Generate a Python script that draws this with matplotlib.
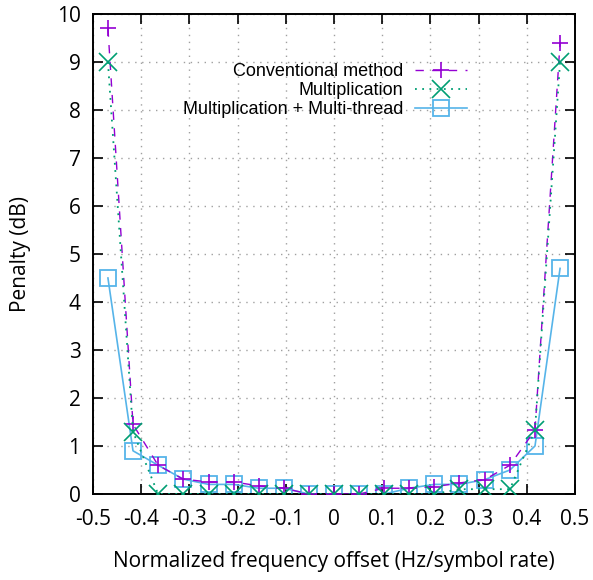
import matplotlib
matplotlib.use("Agg")
import matplotlib.pyplot as plt
import numpy as np

offsets = [-0.469, -0.417, -0.365, -0.313, -0.260, -0.208, -0.156, -0.104, -0.052, 0.0,
           0.052, 0.104, 0.156, 0.208, 0.260, 0.313, 0.365, 0.417, 0.469]
conventional = [9.7, 1.45, 0.6, 0.31, 0.25, 0.25, 0.17, 0.12, 0.0, 0.0,
                0.0, 0.12, 0.12, 0.15, 0.23, 0.3, 0.6, 1.33, 9.4]
multiplication = [9.0, 1.3, 0.0, 0.0, 0.0, 0.0, 0.0, 0.0, 0.0, 0.0,
                  0.0, 0.0, 0.0, 0.0, 0.1, 0.1, 0.1, 1.33, 9.0]
multithread = [4.5, 0.9, 0.6, 0.31, 0.2, 0.2, 0.12, 0.12, 0.0, 0.0,
               0.0, 0.0, 0.12, 0.2, 0.2, 0.3, 0.5, 1.0, 4.7]
labels = ["Conventional method", "Multiplication", "Multiplication + Multi-thread"]
xticks = [-0.5, -0.4, -0.3, -0.2, -0.1, 0, 0.1, 0.2, 0.3, 0.4, 0.5]
xticklabels = ["-0.5", "-0.4", "-0.3", "-0.2", "-0.1", "0", "0.1", "0.2", "0.3", "0.4", "0.5"]
yticks = list(range(0, 11))

plt.rcParams['font.family'] = ['Open Sans', 'DejaVu Sans']
W, H = 593, 580
fig = plt.figure(figsize=(W/100, H/100), dpi=100)
L, R, T, B = 93, 575, 14, 494
ax = fig.add_axes([L/W, 1-B/H, (R-L)/W, (B-T)/H])

ax.plot(offsets, conventional, color='#9400D3', linestyle=(0, (6, 6)), linewidth=1.0,
        marker='+', markersize=11.5, markeredgewidth=1.2, label=labels[0], zorder=3)
ax.plot(offsets, multiplication, color='#009E73', linestyle=(0, (1, 3)), linewidth=1.3,
        marker='x', markersize=12.5, markeredgewidth=1.2, label=labels[1], zorder=4)
ax.plot(offsets, multithread, color='#56B4E9', linestyle='-', linewidth=1.2,
        marker='s', markersize=12, markerfacecolor='none', markeredgewidth=1.3,
        label=labels[2], zorder=2)

ax.set_xlim(-0.5, 0.5)
ax.set_ylim(0, 10)
ax.set_xticks(xticks)
ax.set_xticklabels(xticklabels)
ax.set_yticks(yticks)
ax.tick_params(direction='in', length=7, width=1.2, top=True, right=True,
               labelsize=15)
ax.tick_params(axis='x', pad=11)
ax.tick_params(axis='y', pad=9)
ax.grid(True, linestyle=(0, (1, 4)), color='#a0a0a0', linewidth=1.0)
for s in ax.spines.values():
    s.set_linewidth(1.4)
ax.set_xlabel("Normalized frequency offset (Hz/symbol rate)", fontsize=15)
ax.set_ylabel("Penalty (dB)", fontsize=15)
ax.xaxis.set_label_coords(0.5, (B - 551) / (B - T))
ax.yaxis.set_label_coords((31 - L) / (R - L), 0.5)

leg = ax.legend(loc='upper right', bbox_to_anchor=(467/W, 1-63/H),
                bbox_transform=fig.transFigure, frameon=False,
                markerfirst=False, handlelength=2.9, handletextpad=0.65,
                labelspacing=0.12, borderpad=0, borderaxespad=0,
                prop={'family': 'Liberation Sans', 'size': 13})

fig.savefig("out.png", dpi=100)
